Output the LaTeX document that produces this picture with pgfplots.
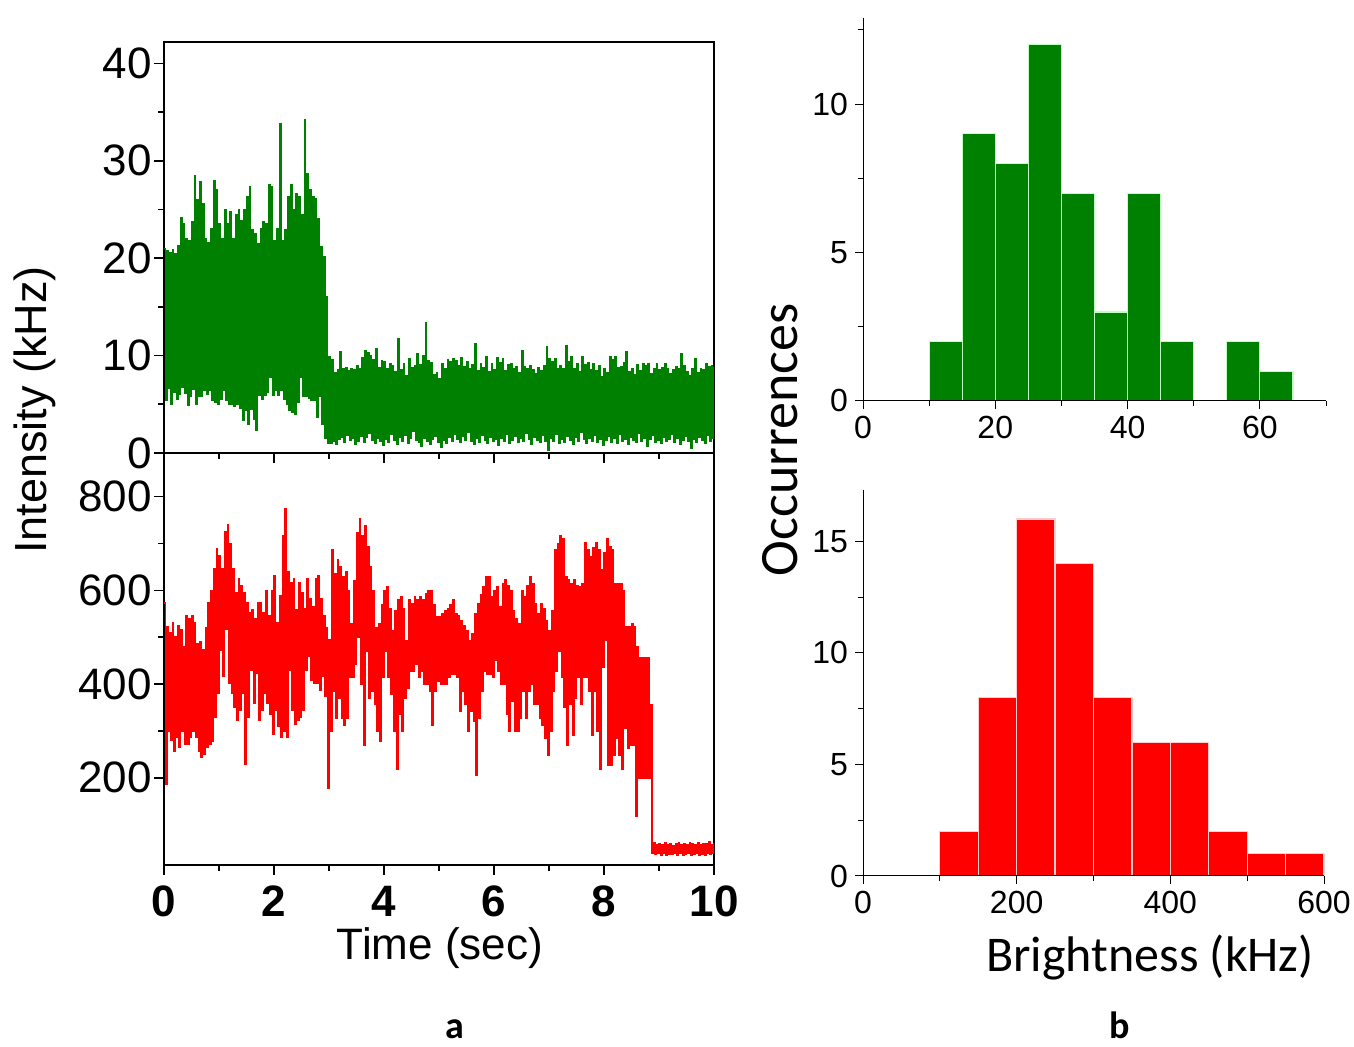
\documentclass[border=0pt]{standalone}
\usepackage{fontspec}
\setmainfont{Liberation Sans}
\newfontfamily\calibri{Carlito}
\usepackage{pgfplots}
\pgfplotsset{compat=1.18}
\definecolor{tgreen}{RGB}{0,128,0}
\definecolor{tred}{RGB}{255,0,0}
\pgfplotsset{
  trace/.style={scale only axis, width=275pt, xmin=0, xmax=10, xtick={0,2,...,10},
    minor x tick num=1, minor y tick num=1, tick pos=left, tick align=outside,
    major tick length=5pt, minor tick length=3pt, axis line style={line width=1pt},
    every tick/.append style={line width=0.8pt, black},
    tick label style={font=\fontsize{22}{24}\selectfont},
    yticklabel style={inner sep=1pt},
    /pgf/number format/assume math mode=true, /pgf/number format/1000 sep={}},
  hist/.style={scale only axis, axis lines=left, axis line style={-, line width=0.5pt},
    tick align=outside, major tick length=4pt, minor tick length=2.5pt,
    every tick/.append style={line width=0.5pt, black},
    tick label style={font=\fontsize{16}{18}\selectfont},
    /pgf/number format/assume math mode=true, /pgf/number format/1000 sep={}, axis on top},
}
\begin{document}
\begin{tikzpicture}
\useasboundingbox (0pt,0pt) rectangle (677pt,523.5pt);
% top trace (green)
\begin{axis}[trace, at={(82pt,297pt)}, anchor=south west, height=205.5pt,
  ymin=0, ymax=42.2, ytick={0,10,...,40}, xticklabels={}]
\addplot[tgreen, const plot, line width=0.75pt] coordinates {
(0,21.0)(0.025,5.4)(0.05,20.8)(0.075,6.6)(0.1,20.6)(0.125,5.0)(0.15,20.9)(0.175,6.2)(0.2,20.5)(0.225,5.5)(0.25,21.3)(0.275,6.0)(0.3,24.2)(0.325,6.8)(0.35,23.5)(0.375,6.1)(0.4,22.0)(0.425,4.9)(0.45,21.8)(0.475,5.8)(0.5,23.7)(0.525,6.5)(0.55,28.5)(0.575,5.0)(0.6,26.0)(0.625,5.8)(0.65,27.8)(0.675,5.8)(0.7,25.6)(0.725,6.4)(0.75,22.0)(0.775,6.0)(0.8,21.6)(0.825,6.4)(0.85,23.0)(0.875,5.4)(0.9,28.0)(0.925,5.2)(0.95,27.0)(0.975,5.0)
(1,23.5)(1.025,5.5)(1.05,22.0)(1.075,6.4)(1.1,25.0)(1.125,5.4)(1.15,23.5)(1.175,5.0)(1.2,24.8)(1.225,5.0)(1.25,22.0)(1.275,4.8)(1.3,24.5)(1.325,5.0)(1.35,25.0)(1.375,4.6)(1.4,23.8)(1.425,3.4)(1.45,25.0)(1.475,4.4)(1.5,26.3)(1.525,3.0)(1.55,27.3)(1.575,4.5)(1.6,22.9)(1.625,3.5)(1.65,22.5)(1.675,2.3)(1.7,21.5)(1.725,5.9)(1.75,23.0)(1.775,5.5)(1.8,23.7)(1.825,5.9)(1.85,23.5)(1.875,6.2)(1.9,27.5)(1.925,7.8)(1.95,27.3)(1.975,5.9)
(2,21.8)(2.025,6.4)(2.05,23.0)(2.075,5.9)(2.1,33.8)(2.125,6.4)(2.15,21.8)(2.175,5.5)(2.2,22.9)(2.225,5.0)(2.25,26.3)(2.275,4.4)(2.3,27.5)(2.325,4.2)(2.35,25.0)(2.375,4.0)(2.4,26.6)(2.425,5.2)(2.45,26.3)(2.475,7.8)(2.5,24.5)(2.525,5.8)(2.55,34.2)(2.575,5.8)(2.6,28.7)(2.625,5.6)(2.65,27.0)(2.675,5.4)(2.7,26.3)(2.725,5.4)(2.75,26.1)(2.775,3.7)(2.8,24.0)(2.825,5.8)(2.85,21.2)(2.875,3.0)(2.9,20.1)(2.925,1.5)(2.95,16.0)(2.975,1.0)
(3,9.9)(3.025,1.0)(3.05,9.6)(3.075,1.2)(3.1,8.2)(3.125,0.9)(3.15,8.5)(3.175,1.4)(3.2,10.4)(3.225,1.6)(3.25,8.6)(3.275,1.1)(3.3,8.8)(3.325,1.8)(3.35,8.4)(3.375,1.3)(3.4,8.7)(3.425,1.5)(3.45,8.5)(3.475,0.9)(3.5,9.0)(3.525,1.2)(3.55,8.6)(3.575,1.7)(3.6,9.8)(3.625,1.1)(3.65,10.5)(3.675,1.6)(3.7,10.3)(3.725,2.0)(3.75,10.0)(3.775,1.3)(3.8,9.6)(3.825,1.0)(3.85,10.7)(3.875,1.5)(3.9,8.8)(3.925,1.2)(3.95,9.5)(3.975,0.8)
(4,9.4)(4.025,1.4)(4.05,8.6)(4.075,1.1)(4.1,9.2)(4.125,1.9)(4.15,9.0)(4.175,1.3)(4.2,8.3)(4.225,0.9)(4.25,11.7)(4.275,1.6)(4.3,8.5)(4.325,1.2)(4.35,9.2)(4.375,1.8)(4.4,7.9)(4.425,1.0)(4.45,9.7)(4.475,1.5)(4.5,8.8)(4.525,2.2)(4.55,9.0)(4.575,1.3)(4.6,10.2)(4.625,1.1)(4.65,9.1)(4.675,0.7)(4.7,10.0)(4.725,1.5)(4.75,13.4)(4.775,1.2)(4.8,9.5)(4.825,0.9)(4.85,9.3)(4.875,1.4)(4.9,8.0)(4.925,1.7)(4.95,8.2)(4.975,1.1)
(5,7.6)(5.025,0.6)(5.05,9.2)(5.075,1.3)(5.1,8.7)(5.125,1.0)(5.15,9.6)(5.175,1.6)(5.2,9.4)(5.225,1.2)(5.25,9.7)(5.275,1.9)(5.3,9.5)(5.325,1.4)(5.35,9.0)(5.375,1.1)(5.4,9.8)(5.425,1.7)(5.45,8.9)(5.475,1.3)(5.5,9.4)(5.525,2.1)(5.55,8.6)(5.575,1.2)(5.6,9.1)(5.625,0.9)(5.65,11.2)(5.675,1.5)(5.7,8.4)(5.725,1.1)(5.75,9.2)(5.775,1.8)(5.8,8.8)(5.825,1.3)(5.85,9.9)(5.875,1.0)(5.9,8.3)(5.925,1.6)(5.95,9.2)(5.975,1.2)
(6,8.5)(6.025,1.4)(6.05,9.8)(6.075,0.8)(6.1,9.3)(6.125,1.5)(6.15,9.7)(6.175,1.2)(6.2,8.4)(6.225,1.9)(6.25,9.1)(6.275,1.0)(6.3,9.2)(6.325,1.3)(6.35,8.6)(6.375,1.7)(6.4,8.9)(6.425,1.1)(6.45,8.2)(6.475,1.5)(6.5,10.5)(6.525,1.2)(6.55,8.9)(6.575,2.0)(6.6,8.6)(6.625,1.4)(6.65,9.0)(6.675,0.9)(6.7,8.5)(6.725,1.6)(6.75,8.1)(6.775,1.3)(6.8,8.8)(6.825,1.1)(6.85,8.4)(6.875,1.8)(6.9,9.0)(6.925,1.2)(6.95,10.9)(6.975,0.3)
(7,9.7)(7.025,1.5)(7.05,9.4)(7.075,1.2)(7.1,9.7)(7.125,1.9)(7.15,8.6)(7.175,1.0)(7.2,9.0)(7.225,1.4)(7.25,8.7)(7.275,1.1)(7.3,11.0)(7.325,1.7)(7.35,9.4)(7.375,1.3)(7.4,9.9)(7.425,0.9)(7.45,8.7)(7.475,1.6)(7.5,9.2)(7.525,1.2)(7.55,8.3)(7.575,2.1)(7.6,9.9)(7.625,1.4)(7.65,9.1)(7.675,1.0)(7.7,9.3)(7.725,1.5)(7.75,8.5)(7.775,1.2)(7.8,9.2)(7.825,1.8)(7.85,8.4)(7.875,1.1)(7.9,9.0)(7.925,1.4)(7.95,7.8)(7.975,0.8)
(8,8.6)(8.025,1.3)(8.05,8.2)(8.075,1.7)(8.1,9.9)(8.125,1.1)(8.15,9.6)(8.175,1.5)(8.2,9.9)(8.225,1.0)(8.25,8.8)(8.275,1.9)(8.3,8.9)(8.325,1.2)(8.35,9.3)(8.375,1.4)(8.4,10.4)(8.425,0.9)(8.45,8.3)(8.475,1.6)(8.5,8.7)(8.525,1.3)(8.55,8.0)(8.575,1.1)(8.6,9.1)(8.625,2.0)(8.65,8.4)(8.675,1.2)(8.7,9.2)(8.725,1.5)(8.75,9.0)(8.775,0.7)(8.8,9.2)(8.825,1.4)(8.85,8.1)(8.875,1.8)(8.9,8.6)(8.925,1.1)(8.95,9.2)(8.975,1.3)
(9,8.5)(9.025,1.0)(9.05,8.8)(9.075,1.6)(9.1,9.2)(9.125,1.2)(9.15,8.6)(9.175,1.4)(9.2,8.1)(9.225,1.9)(9.25,8.5)(9.275,1.1)(9.3,8.9)(9.325,1.5)(9.35,8.6)(9.375,0.9)(9.4,10.2)(9.425,1.3)(9.45,9.0)(9.475,1.7)(9.5,8.3)(9.525,1.2)(9.55,7.9)(9.575,0.5)(9.6,8.6)(9.625,1.4)(9.65,9.7)(9.675,1.1)(9.7,8.2)(9.725,1.6)(9.75,8.7)(9.775,1.3)(9.8,8.5)(9.825,1.0)(9.85,9.2)(9.875,1.8)(9.9,8.9)(9.925,1.2)(9.95,9.0)(9.975,1.5)(10,8.8)
};
\end{axis}
% bottom trace (red)
\begin{axis}[trace, at={(82pt,91pt)}, anchor=south west, height=206pt,
  ymin=14, ymax=893, ytick={200,400,...,800},
  xticklabel style={font=\bfseries\fontsize{22}{24}\selectfont, yshift=-2pt}]
\addplot[tred, const plot, line width=0.75pt] coordinates {
(0,573)(0.025,186)(0.05,523)(0.075,300)(0.1,510)(0.125,280)(0.15,530)(0.175,257)(0.2,500)(0.225,286)(0.25,525)(0.275,265)(0.3,515)(0.325,300)(0.35,480)(0.375,272)(0.4,545)(0.425,272)(0.45,540)(0.475,286)(0.5,545)(0.525,300)(0.55,530)(0.575,286)(0.6,487)(0.625,257)(0.65,490)(0.675,243)(0.7,473)(0.725,250)(0.75,520)(0.775,265)(0.8,573)(0.825,272)(0.85,600)(0.875,279)(0.9,645)(0.925,330)(0.95,688)(0.975,380)
(1,674)(1.025,473)(1.05,645)(1.075,416)(1.1,724)(1.125,516)(1.15,739)(1.175,401)(1.2,700)(1.225,380)(1.25,645)(1.275,351)(1.3,595)(1.325,322)(1.35,624)(1.375,344)(1.4,610)(1.425,380)(1.45,595)(1.475,229)(1.5,573)(1.525,330)(1.55,552)(1.575,430)(1.6,559)(1.625,358)(1.65,540)(1.675,423)(1.7,573)(1.725,322)(1.75,573)(1.775,344)(1.8,552)(1.825,380)(1.85,599)(1.875,360)(1.9,545)(1.925,336)(1.95,600)(1.975,293)
(2,631)(2.025,344)(2.05,530)(2.075,310)(2.1,588)(2.125,286)(2.15,717)(2.175,300)(2.2,775)(2.225,286)(2.25,640)(2.275,430)(2.3,617)(2.325,344)(2.35,624)(2.375,315)(2.4,559)(2.425,322)(2.45,617)(2.475,330)(2.5,595)(2.525,344)(2.55,560)(2.575,430)(2.6,624)(2.625,459)(2.65,581)(2.675,409)(2.7,566)(2.725,401)(2.75,624)(2.775,401)(2.8,631)(2.825,387)(2.85,581)(2.875,416)(2.9,545)(2.925,373)(2.95,520)(2.975,178)
(3,495)(3.025,300)(3.05,687)(3.075,385)(3.1,636)(3.125,327)(3.15,665)(3.175,370)(3.2,651)(3.225,327)(3.25,629)(3.275,313)(3.3,640)(3.325,327)(3.35,600)(3.375,414)(3.4,528)(3.425,414)(3.45,620)(3.475,442)(3.5,723)(3.525,500)(3.55,752)(3.575,400)(3.6,716)(3.625,270)(3.65,737)(3.675,471)(3.7,694)(3.725,370)(3.75,650)(3.775,385)(3.8,600)(3.825,356)(3.85,521)(3.875,300)(3.9,528)(3.925,277)(3.95,570)(3.975,414)
(4,600)(4.025,471)(4.05,608)(4.075,414)(4.1,560)(4.125,378)(4.15,514)(4.175,300)(4.2,557)(4.225,219)(4.25,579)(4.275,335)(4.3,586)(4.325,299)(4.35,560)(4.375,370)(4.4,493)(4.425,392)(4.45,579)(4.475,428)(4.5,572)(4.525,428)(4.55,586)(4.575,442)(4.6,579)(4.625,414)(4.65,586)(4.675,428)(4.7,580)(4.725,400)(4.75,593)(4.775,400)(4.8,600)(4.825,385)(4.85,600)(4.875,313)(4.9,570)(4.925,385)(4.95,543)(4.975,407)
(5,543)(5.025,400)(5.05,550)(5.075,400)(5.1,557)(5.125,400)(5.15,560)(5.175,414)(5.2,570)(5.225,421)(5.25,579)(5.275,421)(5.3,550)(5.325,414)(5.35,545)(5.375,342)(5.4,536)(5.425,385)(5.45,525)(5.475,356)(5.5,514)(5.525,299)(5.55,493)(5.575,342)(5.6,507)(5.625,320)(5.65,550)(5.675,205)(5.7,572)(5.725,327)(5.75,590)(5.775,385)(5.8,608)(5.825,428)(5.85,630)(5.875,421)(5.9,630)(5.925,421)(5.95,586)(5.975,414)
(6,600)(6.025,450)(6.05,608)(6.075,428)(6.1,564)(6.125,400)(6.15,615)(6.175,400)(6.2,622)(6.225,335)(6.25,610)(6.275,299)(6.3,600)(6.325,363)(6.35,557)(6.375,299)(6.4,540)(6.425,299)(6.45,528)(6.475,327)(6.5,600)(6.525,385)(6.55,586)(6.575,327)(6.6,610)(6.625,385)(6.65,630)(6.675,400)(6.7,615)(6.725,356)(6.75,572)(6.775,356)(6.8,550)(6.825,327)(6.85,572)(6.875,313)(6.9,560)(6.925,284)(6.95,536)(6.975,248)
(7,514)(7.025,300)(7.05,557)(7.075,385)(7.1,687)(7.125,428)(7.15,700)(7.175,471)(7.2,716)(7.225,414)(7.25,709)(7.275,350)(7.3,630)(7.325,270)(7.35,622)(7.375,356)(7.4,615)(7.425,291)(7.45,622)(7.475,370)(7.5,610)(7.525,414)(7.55,608)(7.575,356)(7.6,615)(7.625,414)(7.65,701)(7.675,414)(7.7,687)(7.725,385)(7.75,672)(7.775,291)(7.8,690)(7.825,385)(7.85,701)(7.875,300)(7.9,687)(7.925,219)(7.95,644)(7.975,435)
(8,680)(8.025,493)(8.05,709)(8.075,226)(8.1,694)(8.125,226)(8.15,687)(8.175,248)(8.2,615)(8.225,284)(8.25,615)(8.275,248)(8.3,615)(8.325,219)(8.35,600)(8.375,306)(8.4,522)(8.425,263)(8.45,522)(8.475,270)(8.5,529)(8.525,270)(8.55,522)(8.575,119)(8.6,480)(8.625,198)(8.65,457)(8.675,198)(8.7,457)(8.725,198)(8.75,457)(8.775,198)(8.8,457)(8.825,198)(8.85,356)(8.875,40)(8.9,62)(8.925,36)(8.95,58)(8.975,38)
(9,60)(9.025,35)(9.05,57)(9.075,39)(9.1,61)(9.125,34)(9.15,58)(9.175,37)(9.2,60)(9.225,36)(9.25,56)(9.275,40)(9.3,59)(9.325,35)(9.35,62)(9.375,38)(9.4,58)(9.425,34)(9.45,60)(9.475,37)(9.5,57)(9.525,39)(9.55,61)(9.575,35)(9.6,59)(9.625,36)(9.65,58)(9.675,38)(9.7,62)(9.725,34)(9.75,57)(9.775,37)(9.8,60)(9.825,35)(9.85,59)(9.875,39)(9.9,63)(9.925,36)(9.95,58)(9.975,38)(10,60)
};
\end{axis}
% top histogram (green)
\begin{axis}[hist, at={(431.5pt,323pt)}, anchor=south west, width=231.5pt, height=191.5pt,
  xmin=0, xmax=70, ymin=0, ymax=12.9, xtick={0,20,40,60}, minor xtick={10,30,50,70},
  ytick={0,5,10}, minor ytick={2.5,7.5,12.5}]
\addplot[ybar interval, fill=tgreen, draw=green!25!white, line width=0.6pt]
  coordinates {(10,2)(15,9)(20,8)(25,12)(30,7)(35,3)(40,7)(45,2)(50,2)};
\addplot[ybar interval, fill=tgreen, draw=green!25!white, line width=0.6pt]
  coordinates {(55,2)(60,1)(65,1)};
\end{axis}
% bottom histogram (red)
\begin{axis}[hist, at={(431.5pt,85.5pt)}, anchor=south west, width=230.5pt, height=193pt,
  xmin=0, xmax=600, ymin=0, ymax=17.3, xtick={0,200,400,600}, minor xtick={100,300,500},
  ytick={0,5,10,15}, minor ytick={2.5,7.5,12.5}]
\addplot[ybar interval, fill=tred, draw=red!20!white, line width=0.6pt]
  coordinates {(100,2)(150,8)(200,16)(250,14)(300,8)(350,6)(400,6)(450,2)(500,1)(550,1)(600,1)};
\end{axis}
% labels
\node[rotate=90, font=\fontsize{22.5}{25}\selectfont] at (17.5pt,318.5pt) {Intensity (kHz)};
\node[font=\fontsize{22}{24}\selectfont] at (220pt,49.5pt) {Time (sec)};
\node[rotate=90, font=\calibri\fontsize{27}{30}\selectfont] at (390pt,303.5pt) {Occurrences};
\node[font=\calibri\fontsize{25}{28}\selectfont] at (575pt,44.5pt) {Brightness (kHz)};
\node[anchor=base, inner sep=0pt, font=\calibri\bfseries\fontsize{19}{21}\selectfont] at (227.5pt,4pt) {a};
\node[anchor=base, inner sep=0pt, font=\calibri\bfseries\fontsize{19}{21}\selectfont] at (560pt,4pt) {b};
\end{tikzpicture}
\end{document}
